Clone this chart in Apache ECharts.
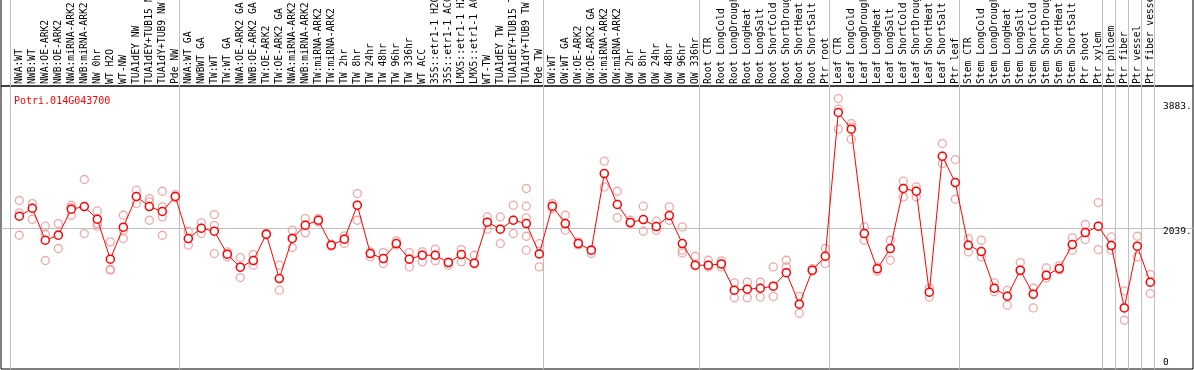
<!DOCTYPE html>
<html><head><meta charset="utf-8">
<script src="https://cdn.jsdelivr.net/npm/echarts@6/dist/echarts.min.js"></script>
<style>html,body{margin:0;padding:0;background:#fff}#c{width:1194px;height:370px}</style>
</head><body><div id="c"></div>
<script>
const title = 'Potri.014G043700';
const categories = [
 'NWA:WT','NWB:WT','NWA:OE-ARK2','NWB:OE-ARK2','NWA:miRNA-ARK2','NWB:miRNA-ARK2','NW 0hr','WT H2O','WT-NW','TUA1dEY NW','TUA1dEY+TUB15 NW','TUA1dY+TUB9 NW','Pde NW',
 'NWA:WT GA','NWBWT GA','TW:WT','TW:WT GA','NWA:OE-ARK2 GA','NWB:OE-ARK2 GA','TW:OE-ARK2','TW:OE-ARK2 GA','NWA:miRNA-ARK2 GA','NWB:miRNA-ARK2 GA','TW:miRNA-ARK2','TW:miRNA-ARK2','TW 2hr','TW 8hr','TW 24hr','TW 48hr','TW 96hr','TW 336hr','WT ACC','35S::etr1-1 H2O','35S::etr1-1 ACC','LMX5::etr1-1 H2O','LMX5::etr1-1 ACC','WT-TW','TUA1dEY TW','TUA1dEY+TUB15 TW','TUA1dY+TUB9 TW','Pde TW',
 'OW:WT','OW:WT GA','OW:OE-ARK2','OW:OE-ARK2 GA','OW:miRNA-ARK2','OW:miRNA-ARK2','OW 2hr','OW 8hr','OW 24hr','OW 48hr','OW 96hr','OW 336hr',
 'Root CTR','Root LongCold','Root LongDrought','Root LongHeat','Root LongSalt','Root ShortCold','Root ShortDrought','Root ShortHeat','Root ShortSalt','Ptr root',
 'Leaf CTR','Leaf LongCold','Leaf LongDrought','Leaf LongHeat','Leaf LongSalt','Leaf ShortCold','Leaf ShortDrought','Leaf ShortHeat','Leaf ShortSalt','Ptr leaf',
 'Stem CTR','Stem LongCold','Stem LongDrought','Stem LongHeat','Stem LongSalt','Stem ShortCold','Stem ShortDrought','Stem ShortHeat','Stem ShortSalt','Ptr shoot','Ptr xylem',
 'Ptr phloem','Ptr fiber','Ptr vessel','Ptr fiber vessel'
];
const means = [
 2212,2330,1858,1932,2316,2355,2168,1578,2050,2503,2355,2282,2503,
 1883,2035,1991,1652,1460,1559,1947,1293,1885,2080,2153,1785,1873,2375,1662,1588,1809,1578,1637,1637,1529,1647,1519,2124,2021,2153,2104,1656,
 2360,2104,1809,1711,2842,2385,2119,2163,2060,2222,1809,1490,
 1490,1509,1121,1136,1150,1180,1380,915,1416,1622,
 3742,3496,1957,1436,1736,2621,2581,1091,3097,2709,
 1785,1691,1150,1032,1416,1062,1342,1441,1794,1972,2065,
 1780,860,1770,1239
];
const replicates = [
 [2444,2261,1932],[2399,2168,2330],[2065,1942,1559],[2104,1736,1940],[2375,2227,2340],[2754,1957,2355],[2290,2104,2065],[1834,1431,1416],[2227,2006,1883],[2596,2399,2503],[2473,2424,2153],[2581,2350,2202,1932],[2532,2483,2503],
 [1991,1785,1883],[2114,1957,2035],[2237,2075,1662],[1686,1612,1652],[1603,1308,1460],[1647,1490,1559],[1947,1960,1935],[1490,1121,1293],[2006,1750,1890],[2178,1967,2080],[2178,2129,2153],[1800,1770,1785],[1922,1809,1873],[2547,2153,2375],[1686,1612,1662],[1676,1514,1588],[1849,1785,1809],[1676,1465,1578],[1686,1539,1637],[1726,1554,1637],[1539,1490,1529],[1721,1539,1647],[1637,1519,1510],[2202,2021,2124],[2202,1809,2021],[2375,1957,2153],[2621,2360,2188,1917,1711],[1809,1465,1656],
 [2399,2326,2360],[2227,2006,2104],[1834,1790,1809],[1662,1711,1720],[3024,2645,2842],[2581,2193,2385],[2153,2104,2119],[2360,1991,2163],[2139,2006,2060],[2350,2153,2222],[2055,1711,1671],[1622,1490,1480],
 [1563,1465,1490],[1554,1465,1509],[1230,1010,1121],[1240,1010,1136],[1240,1020,1150],[1465,1030,1180],[1563,1465,1380],[1030,780,915],[1440,1400,1416],[1736,1514,1622],
 [3948,3791,3496],[3579,3348,3530],[2055,1858,1957],[1460,1400,1436],[1858,1563,1736],[2729,2497,2621],[2645,2497,2581],[1150,1020,1091],[3284,2989,3097],[3048,2463,2709],
 [1883,1686,1785],[1858,1612,1691],[1230,1150,1100],[1120,900,1032],[1529,1416,1400],[1150,860,1062],[1450,1300,1342],[1480,1441,1420],[1893,1711,1794],[2090,1868,1972],[2414,1721,2065],
 [1907,1711,1780],[1111,678,860],[1917,1612,1770],[1352,1072,1239]
];
const groupStarts = [0,13,41,53,63,73,84,85,86,87,88];
const yLabelValues = [0,2039,3883];
const yRefLines = [2039];

const FONT = 'DejaVu Sans Mono';
const X_MIN = -1.408, X_MAX = 90.285;
const Y_MIN = -41, Y_MAX = 4133;
const sepValues = groupStarts.map(s => s - 0.69);
const idx = categories.map((c, i) => i);

const repData = [];
replicates.forEach((arr, i) => arr.forEach(v => repData.push([i, v])));
const meanData = means.map((v, i) => [i, v]);

const chart = echarts.init(document.getElementById('c'), null, {renderer: 'canvas'});
chart.setOption({
  animation: false,
  backgroundColor: '#fff',
  title: {text: title, left: 9, top: 91, textStyle: {color: '#ff0000', fontFamily: FONT, fontSize: 10, fontWeight: 'normal'}},
  grid: [
    {left: 1, right: 1, top: 86, bottom: 1, show: true, borderColor: '#000', borderWidth: 1, containLabel: false, outerBoundsMode: 'none'},
    {left: 1, right: 1, top: -2, height: 88, show: true, borderColor: '#000', borderWidth: 1, containLabel: false, outerBoundsMode: 'none'}
  ],
  xAxis: [
    {type: 'value', gridIndex: 0, min: X_MIN, max: X_MAX, axisLine: {show: false}, axisLabel: {show: false},
     axisTick: {show: false, customValues: sepValues}, splitLine: {show: true, lineStyle: {color: '#c0c0c0', width: 1}}},
    {type: 'value', gridIndex: 0, position: 'top', min: X_MIN, max: X_MAX, axisLine: {show: false}, axisTick: {show: false}, splitLine: {show: false},
     axisLabel: {show: true, customValues: idx, formatter: v => categories[Math.round(v)], rotate: -90, margin: 2,
       align: 'left', verticalAlign: 'middle', hideOverlap: false,
       color: '#000', fontFamily: FONT, fontSize: 9.7}},
    {type: 'value', gridIndex: 1, min: X_MIN, max: X_MAX, axisLine: {show: false}, axisLabel: {show: false},
     axisTick: {show: false, customValues: sepValues}, splitLine: {show: true, lineStyle: {color: '#c0c0c0', width: 1}}}
  ],
  yAxis: [
    {type: 'value', gridIndex: 0, position: 'right', min: Y_MIN, max: Y_MAX, axisLine: {show: false},
     axisTick: {show: false, customValues: yRefLines}, splitLine: {show: true, lineStyle: {color: '#c0c0c0', width: 1}},
     axisLabel: {show: true, inside: true, customValues: yLabelValues, margin: 30, align: 'left',
       formatter: v => v === 0 ? '{d|0}' : '{u|' + v + '.}',
       rich: {
         u: {fontFamily: FONT, fontSize: 9.5, color: '#000', padding: [8, 0, 0, 0]},
         d: {fontFamily: FONT, fontSize: 9.5, color: '#000', padding: [0, 0, 8, 0]}
       }}},
    {type: 'value', gridIndex: 1, min: 0, max: 1, show: false, splitLine: {show: false}}
  ],
  series: [
    {type: 'scatter', xAxisIndex: 0, yAxisIndex: 0, data: repData, symbol: 'circle', symbolSize: 8, z: 2,
     itemStyle: {color: 'rgba(255,255,255,0)', borderColor: '#f09090', borderWidth: 1.3}, silent: true},
    {type: 'line', xAxisIndex: 0, yAxisIndex: 0, data: meanData, symbol: 'circle', symbolSize: 8, showAllSymbol: true, z: 3,
     lineStyle: {color: '#ff0000', width: 1}, itemStyle: {color: '#ffffff', borderColor: '#ff0000', borderWidth: 1.5}, silent: true}
  ]
});
</script></body></html>
